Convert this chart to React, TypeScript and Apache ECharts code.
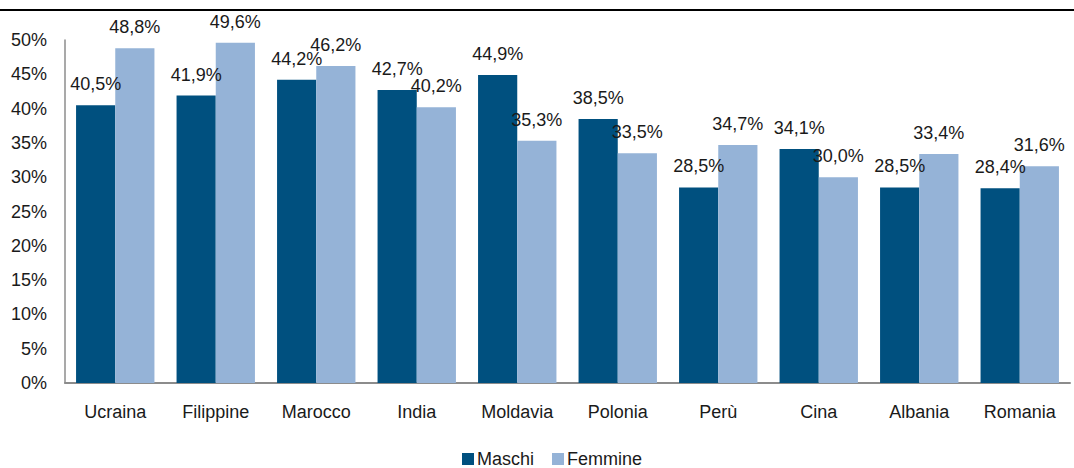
import React, { useEffect, useRef } from "react";
import * as echarts from "echarts";

const categories = ["Ucraina", "Filippine", "Marocco", "India", "Moldavia", "Polonia", "Perù", "Cina", "Albania", "Romania"];
const maschi = [40.5, 41.9, 44.2, 42.7, 44.9, 38.5, 28.5, 34.1, 28.5, 28.4];
const femmine = [48.8, 49.6, 46.2, 40.2, 35.3, 33.5, 34.7, 30.0, 33.4, 31.6];
const seriesNames = ["Maschi", "Femmine"];

const FONT = '"Liberation Sans", Arial, sans-serif';
const TEXT = "#1a1a1a";
const fmt = (v: number) => v.toFixed(1).replace(".", ",") + "%";

export default function App() {
  const ref = useRef<HTMLDivElement>(null);
  useEffect(() => {
    if (!ref.current) return;
    const chart = echarts.init(ref.current, null, { renderer: "svg" });
    const labelCfg = {
      show: true,
      position: "top",
      distance: 12,
      color: TEXT,
      fontFamily: FONT,
      fontSize: 18,
      formatter: (p: any) => fmt(p.value),
    };
    chart.setOption({
      animation: false,
      textStyle: { fontFamily: FONT, color: TEXT },
      grid: { left: 65, right: 4, top: 40, bottom: 85, containLabel: false },
      legend: {
        data: seriesNames,
        left: 462,
        top: 450,
        padding: 0,
        itemWidth: 12,
        itemHeight: 12,
        itemGap: 18,
        icon: "rect",
        textStyle: { fontFamily: FONT, fontSize: 18, color: TEXT, padding: [0, 0, 0, -2] },
      },
      graphic: [
        { type: "rect", left: 0, top: 9, shape: { width: 1074, height: 2 }, style: { fill: "#000" } },
      ],
      xAxis: {
        type: "category",
        data: categories,
        axisLine: { show: true, lineStyle: { color: "#8c8c8c", width: 2 } },
        axisTick: { show: false },
        axisLabel: { color: TEXT, fontFamily: FONT, fontSize: 18, margin: 20 },
      },
      yAxis: {
        type: "value",
        min: 0,
        max: 50,
        interval: 5,
        axisLine: { show: true, lineStyle: { color: "#8c8c8c", width: 1.5 } },
        axisTick: { show: false },
        splitLine: { show: false },
        axisLabel: { color: TEXT, fontFamily: FONT, fontSize: 18, margin: 18, formatter: (v: number) => v + "%" },
      },
      series: [
        {
          name: seriesNames[0],
          type: "bar",
          data: maschi,
          barGap: "0%",
          barCategoryGap: "22%",
          itemStyle: { color: "#00507F" },
          label: labelCfg,
        },
        {
          name: seriesNames[1],
          type: "bar",
          data: femmine,
          barGap: "0%",
          barCategoryGap: "22%",
          itemStyle: { color: "#95B3D7" },
          label: labelCfg,
        },
      ],
    });
    return () => chart.dispose();
  }, []);
  return (
    <div
      ref={ref}
      style={{ position: "fixed", left: 0, top: 0, width: 1074, height: 468, background: "#fff" }}
    />
  );
}
